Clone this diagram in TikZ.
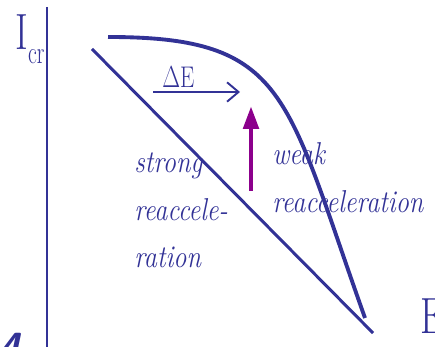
\documentclass[tikz,border=0pt]{standalone}
\usepackage{tikz}
\usepackage{graphicx}
\usetikzlibrary{positioning, arrows.meta}

\definecolor{slideblue}{RGB}{50,50,150}
\definecolor{slidepurple}{RGB}{140,0,140}
\newcommand{\squeeze}[2][0.76]{\scalebox{#1}[1]{#2}}

\begin{document}
\begin{tikzpicture}[
    axis/.style={draw=slideblue, line width=0.8pt},
    spectrum/.style={draw=slideblue, line width=2.2pt},
    diag/.style={draw=slideblue, line width=1.7pt},
    deshift/.style={draw=slideblue, line width=1.1pt, -{Straight Barb[length=6.5pt, width=11pt]}},
    boost/.style={draw=slidepurple, line width=2.8pt, -{Triangle[length=13pt, width=8.5pt]}},
    bigl/.style={text=slideblue, inner sep=0pt, anchor=base west, font=\fontsize{29}{31}\selectfont},
    lbl/.style={text=slideblue, inner sep=0pt, anchor=base west, font=\fontsize{18}{27}\selectfont\itshape},
]
\useasboundingbox (0,0) rectangle (8.7,6.94);

% axis and labels
\coordinate (ax_top) at (0.94, 6.80);
\coordinate (ax_bot) at (0.94, 0);
\draw[axis] (ax_top) -- (ax_bot);
\node[bigl] (icr) at (0.30, 5.94) {\squeeze{I}\raisebox{-7.5pt}{\fontsize{18}{20}\selectfont\squeeze[0.68]{cr}}};
\node[bigl] (e_lbl) at (8.40, 0.26) {\squeeze{E}};
\node[text=slideblue, inner sep=0pt, anchor=north west, font=\fontsize{24}{26}\selectfont\bfseries\sffamily\itshape] (pagenum) at (-0.05, 0.28) {4};

% spectra
\coordinate (curve_a) at (2.16, 6.20);
\coordinate (curve_b) at (7.30, 0.58);
\coordinate (line_a) at (1.84, 5.96);
\coordinate (line_b) at (7.46, 0.28);
\draw[spectrum] (curve_a) .. controls (5.76, 6.20) and (5.70, 5.06) .. (curve_b);
\draw[diag] (line_a) -- (line_b);

% energy shift
\node[text=slideblue, inner sep=0pt, anchor=base west, font=\fontsize{17}{19}\selectfont] (de) at (3.24, 5.18) {\squeeze{$\Delta$E}};
\coordinate (de_a) at (3.06, 5.10);
\coordinate (de_b) at (4.80, 5.10);
\draw[deshift] (de_a) -- (de_b);

\coordinate (up_a) at (5.02, 3.12);
\coordinate (up_b) at (5.02, 4.82);
\draw[boost] (up_a) -- (up_b);

\node[lbl] (strong) at (2.68, 3.48) {\squeeze[0.83]{\begin{tabular}[t]{@{}l@{}}strong\\reaccele-\\ration\end{tabular}}};
\node[lbl] (weak) at (5.44, 3.64) {\squeeze[0.83]{\begin{tabular}[t]{@{}l@{}}weak\\reacceleration\end{tabular}}};

\end{tikzpicture}
\end{document}
